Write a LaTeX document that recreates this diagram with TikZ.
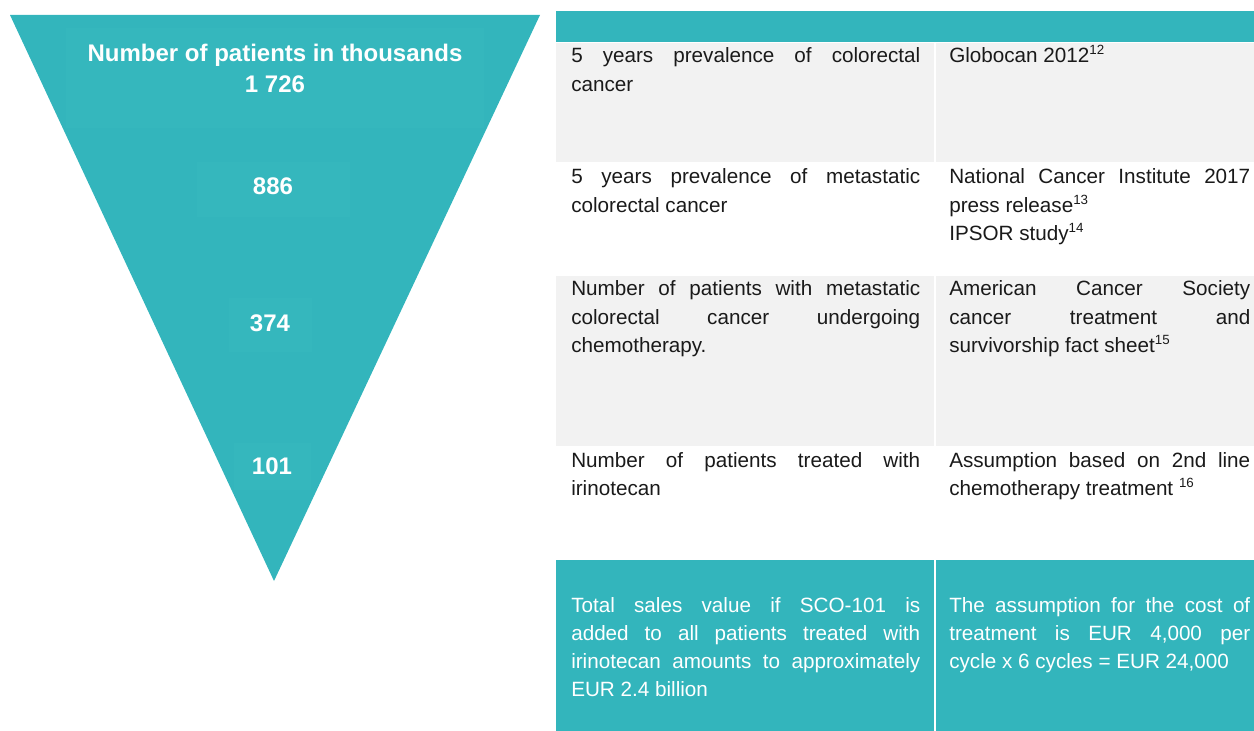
\documentclass[tikz,border=0pt]{standalone}
\usepackage{fontspec}
\setmainfont{Liberation Sans}
\usetikzlibrary{positioning}
\definecolor{funnelteal}{RGB}{51,181,188}
\definecolor{funnelbox}{RGB}{53,183,189}
\definecolor{cellgray}{RGB}{242,242,242}
\definecolor{celltext}{RGB}{26,26,26}
\newcommand{\fnref}[1]{\raisebox{0.75ex}{\fontsize{10}{10}\selectfont #1}}

\begin{document}
\begin{tikzpicture}[x=0.75pt, y=-0.75pt,
    num/.style={anchor=base, inner sep=0pt, text=white, font=\fontsize{18}{24}\selectfont\bfseries},
    cell/.style={anchor=base west, inner sep=0pt, align=justify, text=celltext, font=\fontsize{15.5}{21.2}\selectfont},
    leftcol/.style={cell, text width=261.75pt},
    rightcol/.style={cell, text width=225.75pt}]
    \useasboundingbox (0,0) rectangle (1254,731);
    % funnel
    \coordinate (TL) at (10,15);
    \coordinate (TR) at (540,15);
    \coordinate (tip) at (274,581);
    \fill [funnelteal] (TL) -- (TR) -- (tip) -- cycle;
    \fill [funnelbox] (66,28) rectangle (484,128);
    \fill [funnelbox] (197,162) rectangle (350,217);
    \fill [funnelbox] (229,298) rectangle (312,352);
    \fill [funnelbox] (234,443) rectangle (311,490);
    \node [num] (title) at (275,62) {Number of patients in thousands};
    \node [num] (n1726) at (275,93) {1 726};
    \node [num] (n886) at (273,195) {886};
    \node [num] (n374) at (270,331) {374};
    \node [num] (n101) at (272,474) {101};

    % table
    \fill [funnelteal] (556,11) rectangle (1254,42);
    \fill [cellgray] (556,43) rectangle (934,162);
    \fill [cellgray] (936,43) rectangle (1254,162);
    \fill [cellgray] (556,276) rectangle (934,446);
    \fill [cellgray] (936,276) rectangle (1254,446);
    \fill [funnelteal] (556,560) rectangle (934,731);
    \fill [funnelteal] (936,560) rectangle (1254,731);

    \node [leftcol] (prev) at (571,63) {5 years prevalence of colorectal\linebreak cancer};
    \node [rightcol] (prevsrc) at (949,63) {Globocan 2012\fnref{12}};
    \node [leftcol] (meta) at (571,184) {5 years prevalence of metastatic\linebreak colorectal cancer};
    \node [rightcol] (metasrc) at (949,184) {National Cancer Institute 2017\linebreak press release\fnref{13}\\IPSOR study\fnref{14}};
    \node [leftcol] (chemo) at (571,296) {Number of patients with metastatic\linebreak colorectal cancer undergoing\linebreak chemotherapy.};
    \node [rightcol] (chemosrc) at (949,296) {American Cancer Society\linebreak cancer treatment and\linebreak survivorship fact sheet\fnref{15}};
    \node [leftcol] (irino) at (571,467) {Number of patients treated with\linebreak irinotecan};
    \node [rightcol] (irinosrc) at (949,467) {Assumption based on 2nd line\linebreak chemotherapy treatment \fnref{16}};
    \node [leftcol, text=white] (sales) at (571,612) {Total sales value if SCO-101 is\linebreak added to all patients treated with\linebreak irinotecan amounts to approximately\linebreak EUR 2.4 billion};
    \node [rightcol, text=white] (cost) at (949,612) {The assumption for the cost of\linebreak treatment is EUR 4,000 per\linebreak cycle x 6 cycles = EUR 24,000};
\end{tikzpicture}
\end{document}
